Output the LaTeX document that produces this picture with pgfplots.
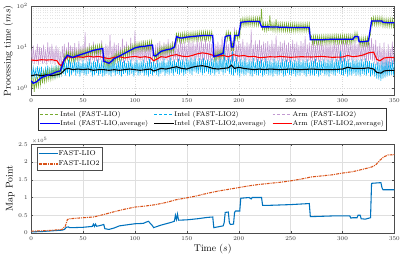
\documentclass[border=0pt]{standalone}
\usepackage{pgfplots}
\pgfplotsset{compat=1.18}
\definecolor{mgreen}{rgb}{0.47,0.67,0.19}
\definecolor{mpurple}{rgb}{0.76,0.60,0.82}
\definecolor{mblue}{rgb}{0,0.447,0.741}
\definecolor{morange}{rgb}{0.85,0.325,0.098}
\begin{document}
\begin{tikzpicture}
\pgfplotsset{
  every axis/.append style={
    scale only axis, width=373pt, xmin=0, xmax=350,
    xtick={0,50,...,350},
    tick align=inside, tick pos=both,
    major tick length=2pt, minor tick length=1pt,
    axis line style={black!70},
    tick style={black!70},
    ticklabel style={font=\fontsize{6.5}{7}\selectfont, text=black!80},
    label style={font=\fontsize{10}{11}\selectfont},
    legend cell align=left,
    legend image code/.code={\draw[#1] (0pt,0pt) -- (20pt,0pt);},
  }
}
% ---------- top: processing time ----------
\begin{axis}[
  at={(0pt,141pt)}, height=92pt,
  ymode=log, ymin=0.65, ymax=100,
  ytick={1,10,100},
  ylabel={Processing time ($ms$)},
  ylabel style={yshift=-3pt},
  xmajorgrids=true, ymajorgrids=true, yminorgrids=true,
  major grid style={gray!30, dotted},
  minor grid style={gray!20, dotted},
  legend columns=3,
  legend style={at={(0.5,-0.14)}, anchor=north, font=\fontsize{7}{8}\selectfont,
    draw=black!80, line width=0.6pt, fill=white, inner sep=1pt, row sep=-1.5pt,
    /tikz/every odd column/.append style={column sep=-2pt},
    /tikz/every even column/.append style={column sep=4pt}},
]
% Arm (FAST-LIO2) raw
\addplot[mpurple, line width=0.5pt, forget plot] coordinates {
(0,9.0)(1,4.0)(2,11.0)(3,3.8)(4,8.5)(5,4.2)(6,12.0)(7,3.6)(8,10.0)(9,4.4)(10,9.5)(11,3.9)(12,11.5)(13,4.1)(14,8.8)(15,3.7)(16,13.0)(17,4.3)(18,10.2)(19,3.8)(20,12.0)(21,4.0)(22,9.0)(23,3.6)(24,11.0)(25,4.2)(26,9.5)(27,3.4)(28,8.0)(29,3.0)
(30,10.5)(31,4.5)(32,12.0)(33,4.2)(34,9.5)(35,4.8)(36,13.0)(37,4.0)(38,11.0)(39,4.6)(40,10.0)(41,4.3)(42,12.5)(43,4.9)(44,9.8)(45,4.1)(46,14.0)(47,4.5)(48,10.5)(49,4.4)
(50,11.5)(51,4.7)(52,23.0)(53,4.2)(54,10.2)(55,4.6)(56,12.5)(57,4.0)(58,9.6)(59,4.8)(60,13.5)(61,4.3)(62,11.0)(63,4.5)(64,10.0)(65,4.1)(66,12.0)(67,4.9)(68,14.5)(69,4.2)
(70,9.8)(71,4.0)(72,12.0)(73,4.6)(74,11.0)(75,4.3)(76,20.0)(77,4.8)(78,10.4)(79,4.2)(80,13.0)(81,4.5)(82,11.2)(83,4.0)(84,12.5)(85,4.7)(86,10.0)(87,4.4)(88,16.0)(89,4.1)
(90,11.0)(91,4.6)(92,13.5)(93,4.3)(94,10.4)(95,4.9)(96,17.0)(97,4.2)(98,11.5)(99,4.5)(100,25.0)(101,4.0)(102,10.8)(103,4.8)(104,13.0)(105,4.4)(106,11.6)(107,4.6)(108,14.5)(109,4.1)
(110,10.5)(111,4.3)(112,12.0)(113,4.7)(114,11.4)(115,4.0)(116,15.0)(117,4.5)(118,9.5)(119,4.2)(120,11.5)(121,3.9)(122,12.6)(123,4.4)(124,14.0)(125,4.6)(126,10.8)(127,4.1)(128,13.0)(129,4.8)
(130,12.0)(131,4.5)(132,15.5)(133,4.2)(134,11.0)(135,4.7)(136,14.0)(137,4.4)(138,12.4)(139,4.9)(140,21.0)(141,4.3)(142,11.6)(143,4.6)(144,15.0)(145,4.8)(146,12.2)(147,4.2)(148,13.5)(149,4.5)
(150,11.5)(151,4.7)(152,16.0)(153,4.4)(154,12.8)(155,4.9)(156,14.5)(157,4.6)(158,11.8)(159,5.0)(160,17.0)(161,4.5)(162,13.0)(163,4.8)(164,15.5)(165,4.3)(166,12.2)(167,4.7)(168,16.0)(169,4.9)
(170,12.5)(171,4.5)(172,14.0)(173,4.3)(174,11.8)(175,4.7)(176,15.0)(177,4.4)(178,12.0)(179,4.6)(180,13.5)(181,4.2)(182,11.5)(183,4.8)(184,18.0)(185,4.5)(186,12.6)(187,4.4)(188,14.5)(189,4.7)
(190,11.8)(191,4.4)(192,16.0)(193,4.2)(194,12.0)(195,4.6)(196,30.0)(197,4.3)(198,11.5)(199,4.5)(200,14.0)(201,4.1)(202,12.2)(203,4.7)(204,15.5)(205,4.4)(206,11.0)(207,4.2)(208,13.0)(209,4.6)
(210,12.0)(211,4.3)(212,27.0)(213,4.1)(214,11.4)(215,4.5)(216,14.5)(217,4.2)(218,12.0)(219,4.4)(220,15.0)(221,4.0)(222,11.2)(223,4.6)(224,13.5)(225,4.3)(226,12.4)(227,4.1)(228,14.0)(229,4.5)
(230,11.6)(231,4.2)(232,15.0)(233,4.4)(234,12.0)(235,4.1)(236,19.0)(237,4.6)(238,11.0)(239,4.3)(240,13.5)(241,4.0)(242,12.2)(243,4.5)(244,14.5)(245,4.2)(246,11.4)(247,4.4)(248,13.0)(249,4.1)
(250,11.8)(251,4.3)(252,15.0)(253,4.5)(254,12.0)(255,4.2)(256,13.5)(257,4.4)(258,11.2)(259,4.1)(260,14.0)(261,4.6)(262,12.4)(263,4.3)(264,18.5)(265,4.0)(266,11.6)(267,4.5)(268,13.0)(269,4.2)
(270,12.0)(271,4.4)(272,14.5)(273,4.1)(274,11.0)(275,4.5)(276,13.0)(277,4.3)(278,12.2)(279,4.2)(280,15.0)(281,4.6)(282,11.6)(283,4.0)(284,13.5)(285,4.4)(286,12.0)(287,4.3)(288,14.0)(289,4.1)
(290,11.4)(291,4.5)(292,15.5)(293,4.2)(294,12.0)(295,4.4)(296,13.0)(297,4.6)(298,11.6)(299,4.1)(300,14.5)(301,4.3)(302,12.4)(303,4.5)(304,16.0)(305,4.2)(306,11.8)(307,4.7)(308,14.0)(309,4.4)
(310,12.2)(311,4.6)(312,15.0)(313,4.3)(314,11.8)(315,4.8)(316,18.5)(317,4.5)(318,12.0)(319,4.4)(320,14.0)(321,4.7)(322,12.6)(323,4.2)(324,15.5)(325,4.6)(326,12.8)(327,4.9)(328,16.5)(329,4.5)
(330,12.0)(331,4.0)(332,15.0)(333,3.6)(334,10.5)(335,3.4)(336,12.5)(337,3.0)(338,9.5)(339,2.6)(340,13.0)(341,2.4)(342,8.5)(343,2.2)(344,12.0)(345,3.0)(346,9.0)(347,3.5)(348,13.5)(349,3.8)(350,10.0)
};
% Intel (FAST-LIO2) raw
\addplot[cyan, line width=0.5pt, forget plot] coordinates {
(0,2.8)(1,1.8)(2,3.2)(3,1.9)(4,2.9)(5,1.7)(6,3.4)(7,2.0)(8,3.0)(9,1.8)(10,3.3)(11,1.6)(12,2.7)(13,1.9)(14,3.1)(15,2.0)(16,3.5)(17,1.7)(18,2.9)(19,1.8)(20,3.3)(21,1.9)(22,3.0)(23,1.7)(24,3.6)(25,2.0)(26,3.2)(27,1.8)(28,3.4)(29,2.1)
(30,4.2)(31,2.2)(32,4.6)(33,2.0)(34,3.8)(35,2.3)(36,4.9)(37,1.9)(38,4.4)(39,2.1)(40,3.9)(41,2.4)(42,5.0)(43,2.0)(44,4.3)(45,2.2)(46,4.7)(47,1.9)(48,4.0)(49,2.3)
(50,4.8)(51,2.1)(52,4.1)(53,2.0)(54,4.5)(55,2.2)(56,5.2)(57,2.4)(58,3.9)(59,1.9)(60,4.6)(61,2.1)(62,4.3)(63,2.3)(64,4.9)(65,2.0)(66,4.0)(67,2.2)(68,4.7)(69,1.9)
(70,4.4)(71,2.0)(72,3.8)(73,2.2)(74,4.8)(75,2.1)(76,4.2)(77,1.9)(78,4.6)(79,2.3)(80,5.1)(81,2.0)(82,4.0)(83,2.2)(84,4.5)(85,2.1)(86,4.9)(87,1.9)(88,4.3)(89,2.2)
(90,4.7)(91,2.3)(92,4.1)(93,2.0)(94,4.6)(95,2.1)(96,5.0)(97,2.2)(98,3.9)(99,1.9)(100,4.4)(101,2.4)(102,4.8)(103,2.0)(104,4.2)(105,2.1)(106,4.5)(107,2.3)(108,4.9)(109,2.0)
(110,4.1)(111,2.1)(112,4.6)(113,1.9)(114,5.2)(115,2.2)(116,4.3)(117,2.0)(118,4.7)(119,2.3)(120,4.0)(121,2.1)(122,4.9)(123,1.9)(124,4.4)(125,2.2)(126,4.6)(127,2.4)(128,5.3)(129,2.0)
(130,4.2)(131,2.2)(132,4.8)(133,2.1)(134,5.6)(135,2.3)(136,4.5)(137,2.0)(138,4.9)(139,2.4)(140,4.3)(141,2.2)(142,5.2)(143,2.1)(144,4.7)(145,2.3)(146,5.0)(147,2.0)(148,4.4)(149,2.2)
(150,5.4)(151,2.4)(152,4.8)(153,2.2)(154,5.6)(155,2.1)(156,4.9)(157,2.5)(158,5.9)(159,2.3)(160,4.6)(161,2.2)(162,5.4)(163,2.4)(164,5.0)(165,2.1)(166,5.5)(167,2.3)(168,4.7)(169,2.5)
(170,5.0)(171,2.2)(172,4.6)(173,2.1)(174,5.3)(175,2.3)(176,4.9)(177,2.0)(178,5.8)(179,2.4)(180,4.5)(181,2.2)(182,6.2)(183,2.5)(184,5.0)(185,2.1)(186,8.5)(187,2.3)(188,4.8)(189,2.6)
(190,6.0)(191,2.2)(192,4.9)(193,2.1)(194,7.8)(195,2.0)(196,4.6)(197,2.3)(198,5.6)(199,2.1)(200,4.4)(201,1.9)(202,5.2)(203,2.2)(204,4.7)(205,2.0)(206,5.5)(207,2.1)(208,4.3)(209,2.3)
(210,5.0)(211,2.0)(212,4.6)(213,1.9)(214,5.4)(215,2.2)(216,4.2)(217,2.1)(218,5.1)(219,2.0)(220,4.5)(221,2.3)(222,5.0)(223,1.9)(224,4.4)(225,2.1)(226,5.3)(227,2.2)(228,4.6)(229,2.0)
(230,4.9)(231,2.1)(232,4.3)(233,1.9)(234,5.2)(235,2.2)(236,4.5)(237,2.0)(238,4.8)(239,2.1)(240,4.2)(241,2.3)(242,5.1)(243,1.9)(244,4.6)(245,2.0)(246,4.9)(247,2.3)(248,4.3)(249,2.1)
(250,5.0)(251,2.0)(252,4.4)(253,2.2)(254,4.8)(255,1.9)(256,4.6)(257,2.1)(258,5.2)(259,2.0)(260,4.3)(261,2.3)(262,4.9)(263,2.1)(264,4.5)(265,1.9)(266,5.0)(267,2.2)(268,4.2)(269,2.0)
(270,4.7)(271,2.1)(272,4.6)(273,2.0)(274,5.1)(275,2.2)(276,4.3)(277,1.9)(278,4.8)(279,2.1)(280,4.5)(281,2.3)(282,5.0)(283,2.0)(284,4.4)(285,2.1)(286,4.9)(287,1.9)(288,4.6)(289,2.2)
(290,5.3)(291,2.1)(292,4.4)(293,2.0)(294,5.1)(295,2.3)(296,4.7)(297,2.2)(298,8.0)(299,2.1)(300,4.5)(301,2.0)(302,5.4)(303,2.2)(304,4.6)(305,1.9)(306,5.0)(307,2.1)(308,4.3)(309,2.0)
(310,5.2)(311,2.2)(312,4.5)(313,2.0)(314,4.9)(315,2.1)(316,4.7)(317,1.9)(318,5.1)(319,2.2)(320,4.4)(321,2.1)(322,5.3)(323,2.0)(324,4.6)(325,2.3)(326,4.6)(327,1.9)(328,4.1)(329,2.1)
(330,4.2)(331,1.9)(332,3.8)(333,1.7)(334,4.4)(335,1.6)(336,4.0)(337,1.5)(338,4.6)(339,1.7)(340,4.2)(341,1.8)(342,4.8)(343,1.9)(344,4.5)(345,2.0)(346,4.3)(347,2.1)(348,4.7)(349,2.0)(350,4.4)
};
% Intel (FAST-LIO) raw
\addplot[mgreen, line width=0.6pt, forget plot] coordinates {
(0,1.9)(1,1.1)(2,1.7)(3,0.8)(4,1.8)(5,1.0)(6,1.9)(7,1.1)(8,2.0)(9,1.2)(10,2.3)(11,1.3)(12,2.4)(13,1.4)(14,2.5)(15,1.5)(16,2.6)(17,1.6)(18,2.8)(19,1.6)(20,2.8)
(21,1.7)(22,3.0)(23,1.8)(24,3.1)(25,1.9)(26,3.2)(27,2.0)(28,3.3)(29,2.3)(30,4.2)(31,3.4)(32,6.2)(33,4.4)(34,7.6)(35,5.0)(36,7.6)(37,4.7)(38,7.2)(39,4.5)(40,7.0)
(41,4.6)(42,7.5)(43,4.8)(44,7.7)(45,5.0)(46,8.0)(47,5.2)(48,8.3)(49,5.4)(50,8.5)(51,5.5)(52,8.8)(53,5.8)(54,9.2)(55,6.0)(56,9.6)(57,6.3)(58,10.0)(59,6.6)(60,10.4)
(61,6.7)(62,10.6)(63,6.9)(64,10.9)(65,7.0)(66,11.2)(67,7.2)(68,11.4)(69,7.4)(70,5.6)(71,3.6)(72,5.3)(73,3.4)(74,5.1)(75,3.2)(76,5.3)(77,3.6)(78,5.8)(79,3.9)(80,6.5)
(81,4.3)(82,7.1)(83,4.6)(84,7.4)(85,4.8)(86,7.7)(87,5.1)(88,8.2)(89,5.5)(90,8.8)(91,5.8)(92,9.3)(93,6.3)(94,10.1)(95,6.6)(96,10.6)(97,7.0)(98,11.3)(99,7.5)(100,11.9)
(101,7.8)(102,12.4)(103,8.1)(104,12.7)(105,8.2)(106,12.9)(107,8.3)(108,13.0)(109,8.4)(110,13.2)(111,8.5)(112,13.5)(113,8.7)(114,13.8)(115,8.8)(116,14.0)(117,9.0)(118,7.8)(119,4.9)(120,7.5)
(121,5.0)(122,8.7)(123,5.8)(124,9.6)(125,6.2)(126,10.0)(127,6.6)(128,10.4)(129,6.8)(130,10.6)(131,6.9)(132,10.9)(133,7.1)(134,11.2)(135,7.2)(136,11.8)(137,7.6)(138,12.5)(139,10.0)(140,22.5)
(141,14.0)(142,21.2)(143,13.5)(144,20.8)(145,13.2)(146,21.5)(147,13.6)(148,22.0)(149,14.0)(150,22.0)(151,14.1)(152,22.3)(153,14.3)(154,22.5)(155,14.4)(156,22.8)(157,14.6)(158,23.0)(159,14.7)(160,23.2)
(161,14.9)(162,23.5)(163,15.0)(164,23.7)(165,15.2)(166,23.8)(167,15.2)(168,23.8)(169,15.2)(170,23.8)(171,15.2)(172,23.8)(173,15.2)(174,23.8)(175,15.2)(176,7.2)(177,4.7)(178,7.6)(179,5.0)(180,7.9)
(181,5.1)(182,8.2)(183,5.4)(184,8.6)(185,5.6)(186,9.0)(187,14.4)(188,23.0)(189,15.0)(190,23.8)(191,15.2)(192,23.8)(193,8.0)(194,12.5)(195,8.0)(196,23.8)(197,15.2)(198,23.8)(199,15.2)(200,23.8)
(201,16.0)(202,50)(203,32)(204,51)(205,33)(206,51)(207,33)(208,52)(209,33.5)(210,52.5)(211,33.6)(212,52.5)(213,33.6)(214,52.5)(215,33.6)(216,52.5)(217,33.6)(218,52.5)(219,33.6)(220,52.5)
(221,33.6)(222,85)(223,25)(224,38.8)(225,24.8)(226,38.8)(227,24.8)(228,38.5)(229,24.6)(230,60)(231,24.6)(232,38.5)(233,24.6)(234,38.3)(235,24.5)(236,48)(237,24.5)(238,38.2)(239,24.4)(240,38.1)
(241,24.4)(242,38.0)(243,24.3)(244,37.9)(245,24.2)(246,37.8)(247,24.2)(248,37.7)(249,24.1)(250,37.5)(251,24.0)(252,37.5)(253,24.0)(254,37.5)(255,24.0)(256,37.5)(257,24.0)(258,37.5)(259,24.0)(260,37.5)
(261,24.0)(262,37.5)(263,24.0)(264,37.5)(265,24.0)(266,37.5)(267,24.0)(268,37.5)(269,18)(270,18.8)(271,12.0)(272,18.8)(273,12.0)(274,18.8)(275,12.0)(276,18.8)(277,12.0)(278,18.8)(279,12.0)(280,18.8)
(281,12.1)(282,19.0)(283,12.2)(284,19.1)(285,12.2)(286,19.2)(287,12.3)(288,19.3)(289,12.3)(290,19.4)(291,12.4)(292,19.4)(293,12.4)(294,19.4)(295,12.4)(296,19.4)(297,12.4)(298,19.4)(299,12.4)(300,19.4)
(301,12.4)(302,19.4)(303,12.4)(304,19.4)(305,12.4)(306,19.4)(307,12.4)(308,19.4)(309,12.4)(310,19.4)(311,13.5)(312,22.5)(313,14.4)(314,22.5)(315,14.4)(316,16.9)(317,10.8)(318,16.9)(319,10.8)(320,16.9)
(321,10.9)(322,17.1)(323,11.0)(324,17.3)(325,11.2)(326,17.5)(327,20)(328,53.8)(329,34.4)(330,53.8)(331,34.4)(332,53.8)(333,34.4)(334,53.8)(335,34.4)(336,53.8)(337,34.4)(338,53.8)(339,32.0)(340,49.5)
(341,31.5)(342,49)(343,31.2)(344,48.8)(345,31.2)(346,48.8)(347,31.2)(348,48.8)(349,31.2)(350,48.8)
};
% Arm (FAST-LIO2, average)
\addplot[red, line width=1.1pt, forget plot] coordinates {
(0,4.8)(5,4.7)(10,4.9)(15,4.8)(20,4.9)(25,4.6)(27,3.8)(29,3.5)(31,4.5)(35,5.8)(40,5.5)(45,5.8)(50,5.6)(55,6.0)(60,5.7)(65,5.9)(70,5.5)(75,5.2)(80,5.6)(85,5.8)
(90,5.4)(95,5.7)(100,5.9)(105,5.6)(110,5.8)(115,5.5)(118,4.6)(122,5.2)(125,5.8)(130,5.6)(135,6.2)(140,6.5)(145,6.0)(150,5.8)(155,6.2)(160,6.8)(165,7.2)(170,6.9)(175,6.3)(180,6.0)
(185,6.2)(190,5.8)(195,6.5)(200,6.0)(205,6.2)(210,5.8)(215,5.9)(220,5.5)(225,5.6)(230,5.8)(235,5.7)(240,5.9)(250,5.6)(260,5.8)(270,5.7)(280,5.9)(290,5.6)(300,5.7)(305,6.2)(310,5.8)
(315,6.0)(320,6.4)(325,7.2)(330,7.5)(333,5.0)(336,4.6)(340,5.4)(345,5.6)(350,5.5)
};
% Intel (FAST-LIO2, average)
\addplot[black, line width=1.1pt, forget plot] coordinates {
(0,2.0)(5,2.1)(10,2.0)(15,2.1)(20,2.0)(25,2.1)(28,2.2)(30,2.4)(33,2.9)(36,3.0)(40,2.8)(45,2.9)(50,2.8)(55,2.9)(60,2.7)(65,2.8)(70,2.8)(75,2.7)(80,2.8)(85,2.7)
(90,2.8)(95,2.9)(100,2.8)(105,2.7)(110,2.8)(115,2.9)(118,2.6)(122,2.8)(125,3.0)(130,2.9)(135,3.1)(140,3.3)(145,3.0)(150,2.9)(155,3.2)(160,3.4)(165,3.5)(170,3.3)(175,3.0)(180,2.9)
(185,3.0)(190,3.1)(193,3.6)(196,3.0)(200,3.2)(205,3.0)(210,2.9)(215,2.8)(220,2.9)(225,2.8)(230,2.9)(240,2.8)(250,2.9)(260,2.8)(270,2.9)(280,2.8)(290,2.8)(300,2.9)(305,3.2)(310,3.0)
(320,3.0)(325,3.1)(330,2.9)(333,2.4)(337,2.3)(340,2.6)(345,2.7)(350,2.7)
};
% Intel (FAST-LIO, average)
\addplot[blue, line width=1.3pt, forget plot] coordinates {
(0,1.5)(2,1.3)(5,1.4)(10,1.8)(15,2.0)(20,2.2)(25,2.5)(28,2.6)(30,3.5)(32,5.0)(35,6.3)(38,5.8)(40,5.6)(45,6.2)(50,6.8)(55,7.5)(60,8.3)(65,8.8)(69,9.2)(70,4.5)
(73,4.2)(75,4.0)(78,4.6)(80,5.2)(85,6.0)(90,7.0)(95,8.2)(100,9.5)(105,10.2)(110,10.5)(115,11.0)(117,11.2)(118,6.3)(120,6.0)(125,7.8)(130,8.5)(135,9.0)(138,10)(140,18)(142,17)
(145,16.5)(150,17.5)(155,18)(160,18.5)(165,19)(170,19)(175,19)(176,5.8)(180,6.3)(185,7.0)(187,18)(190,19)(192,19)(193,10)(195,10)(196,19)(200,19)(202,40)(205,41)(210,42)
(215,42)(220,42)(222,31)(230,31)(240,30.5)(250,30)(260,30)(268,30)(269,15)(280,15)(290,15.5)(300,15.5)(310,15.5)(312,18)(315,18)(316,13.5)(320,13.5)(325,14)(328,43)(335,43)
(338,43)(339,40)(345,39)(350,39)
};
\addlegendimage{mgreen, densely dashed, line width=0.9pt}
\addlegendentry{Intel (FAST-LIO)}
\addlegendimage{cyan, densely dashed, line width=0.9pt}
\addlegendentry{Intel (FAST-LIO2)}
\addlegendimage{mpurple, densely dashed, line width=0.9pt}
\addlegendentry{Arm (FAST-LIO2)}
\addlegendimage{blue, line width=1.1pt}
\addlegendentry{Intel (FAST-LIO,average)}
\addlegendimage{black, line width=1.1pt}
\addlegendentry{Intel (FAST-LIO2,average)}
\addlegendimage{red, line width=1.1pt}
\addlegendentry{Arm (FAST-LIO2,average)}
\end{axis}
% ---------- bottom: map points ----------
\begin{axis}[
  at={(0pt,0pt)}, height=91pt,
  ymin=0, ymax=250000,
  ytick={0,50000,100000,150000,200000,250000},
  scaled y ticks=base 10:-5,
  tick scale binop=\times,
  every y tick scale label/.style={at={(rel axis cs:0,1)}, anchor=south west,
    inner sep=0.5pt, font=\fontsize{5.5}{6}\selectfont, text=black!80},
  xlabel={Time ($s$)},
  ylabel={Map Point},
  xlabel style={yshift=3pt},
  ylabel style={yshift=-3pt},
  grid=major,
  major grid style={gray!25},
  legend style={at={(0.016,0.967)}, anchor=north west, font=\fontsize{7.2}{8}\selectfont,
    draw=black!70, inner sep=1pt, row sep=0pt,
    /tikz/every odd column/.append style={column sep=-2pt}},
]
\addplot[mblue, line width=1.1pt] coordinates {
(0,3000)(10,4000)(20,6000)(30,8000)(32,10000)(34,16000)(36,17000)(37,15000)(40,15000)(50,16000)(59,18500)(60,25000)(61,18500)(62,25000)(63,19000)(65,20000)(69,23000)(70,24000)(71,12000)(75,10000)
(80,14000)(85,20000)(90,22000)(100,26000)(108,27000)(112,32000)(113,33000)(117,20000)(118,15000)(120,17000)(125,22000)(130,26000)(135,30000)(138,33000)(139,50000)(140,38000)(141,53000)(142,36000)(150,37000)(160,40000)
(170,44000)(175,45000)(176,15000)(185,20000)(186,29000)(187,58000)(190,59000)(191,29000)(192,24000)(195,25000)(196,58000)(197,62000)(200,62000)(201,62000)(202,98000)(210,100000)(212,96000)(213,100000)(222,100000)(223,78000)
(230,78000)(250,80000)(268,83000)(269,46000)(290,48000)(307,48000)(308,42000)(310,43000)(314,43000)(315,50000)(317,50000)(318,40000)(322,39000)(327,43000)(328,140000)(337,142000)(338,128000)(339,122000)(350,122000)
};
\addlegendentry{FAST-LIO}
\addplot[morange, line width=1.1pt, dash pattern=on 3pt off 1pt on 1pt off 1pt] coordinates {
(0,5000)(10,6000)(20,7500)(30,10000)(33,20000)(35,38000)(37,40000)(50,43000)(60,45000)(70,52000)(75,56000)(80,60000)(90,67000)(100,73000)(110,76000)(120,80000)(130,86000)(140,94000)(150,99000)(160,105000)
(170,112000)(180,118000)(190,123000)(200,128000)(210,133000)(220,137000)(230,140000)(240,143000)(250,147000)(260,152000)(270,158000)(280,161000)(290,164000)(300,169000)(310,173000)(320,180000)(328,186000)(332,192000)(336,205000)(340,215000)
(344,220000)(350,221000)
};
\addlegendentry{FAST-LIO2}
\end{axis}
\end{tikzpicture}
\end{document}
